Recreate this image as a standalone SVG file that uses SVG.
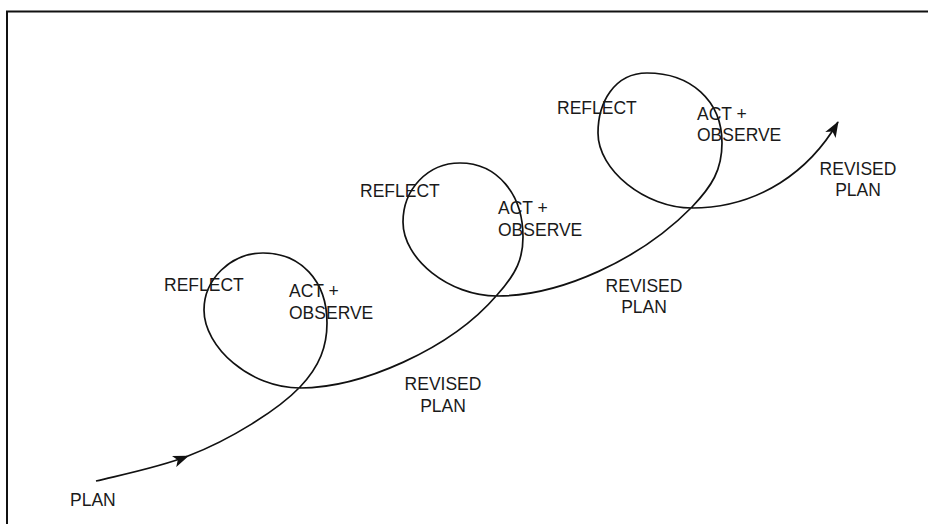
<svg xmlns="http://www.w3.org/2000/svg" width="928" height="524" viewBox="0 0 928 524">
<defs>
<style>
.t{font-family:"Liberation Sans",Arial,sans-serif;font-size:17.5px;fill:#1a1a1a}
.c{fill:none;stroke:#111;stroke-width:1.7}
</style>
<marker id="ah" markerWidth="16" markerHeight="12" refX="15" refY="6" orient="auto" markerUnits="userSpaceOnUse">
<path d="M0,0 L16,6 L0,12 L4,6 Z" fill="#111"/>
</marker>
</defs>
<rect x="0" y="0" width="928" height="524" fill="#fff"/>
<path d="M7,524 V11.5 H928" fill="none" stroke="#111" stroke-width="2"/>
<g id="connectors">
<path class="c" marker-end="url(#ah)" d="M96,481 C125,474 160,467 188,456"/>
<path class="c" marker-end="url(#ah)" d="M188,456 C230,440 278,410 300,387
C320,366 327,346 327,323 C327,280 300,253 263,253 C230,253 204,280 204,310 C204,347 250,388 300,388
C360,388 450,350 497,295
C517,273 523,258 523,237 C523,194 497,163 460,163 C427,163 403,190 403,222 C403,259 449,296 497,296
C560,296 640,260 692,207
C712,186 722,170 722,143 C722,100 690,73 647,73 C614,73 598,103 598,133 C598,170 645,208 692,208
C760,208 810,170 838,122"/>
</g>
<g id="plan"><text class="t" x="70" y="506">PLAN</text></g>
<g id="loop1">
<text class="t" x="164" y="291">REFLECT</text>
<text class="t" x="289" y="297">ACT +</text>
<text class="t" x="289" y="319">OBSERVE</text>
</g>
<g id="revised1">
<text class="t" x="443" y="390" text-anchor="middle">REVISED</text>
<text class="t" x="443" y="412" text-anchor="middle">PLAN</text>
</g>
<g id="loop2">
<text class="t" x="360" y="197">REFLECT</text>
<text class="t" x="498" y="214">ACT +</text>
<text class="t" x="498" y="236">OBSERVE</text>
</g>
<g id="revised2">
<text class="t" x="644" y="292" text-anchor="middle">REVISED</text>
<text class="t" x="644" y="313" text-anchor="middle">PLAN</text>
</g>
<g id="loop3">
<text class="t" x="557" y="114">REFLECT</text>
<text class="t" x="697" y="120">ACT +</text>
<text class="t" x="697" y="141">OBSERVE</text>
</g>
<g id="revised3">
<text class="t" x="858" y="175" text-anchor="middle">REVISED</text>
<text class="t" x="858" y="196" text-anchor="middle">PLAN</text>
</g>
</svg>
